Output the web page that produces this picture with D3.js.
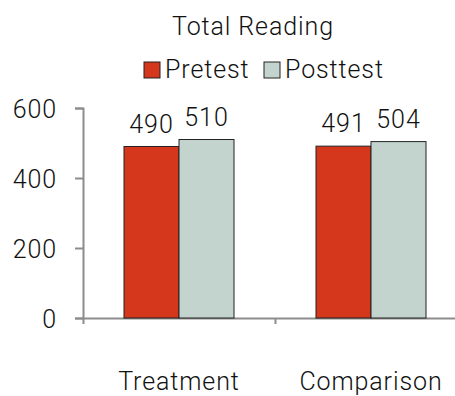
<!DOCTYPE html>
<html>
<head>
<meta charset="utf-8">
<script src="https://cdn.jsdelivr.net/npm/d3@7"></script>
<style>
  body { margin: 0; background: #fff; }
  svg text { font-family: Roboto, "Liberation Sans", sans-serif; font-weight: 300; fill: #111; letter-spacing: 0.9px; }
  .axis path, .axis line { stroke: #8c8c8c; stroke-width: 2; }
</style>
</head>
<body>
<div id="chart"></div>
<script>
var svgWidth = 455;
var svgHeight = 396;

// data
var groups = ["Treatment", "Comparison"];
var seriesNames = ["Pretest", "Posttest"];
var pretest = [490, 491];
var posttest = [510, 504];
var yTicks = [0, 200, 400, 600];

var colors = { Pretest: "#d4371c", Posttest: "#c3d4ce" };

var margin = { top: 108, left: 83, bottom: 78 };
var plotH = svgHeight - margin.top - margin.bottom; // 0 at y=318
var bandW = 192;
var fs = "25px";

var svg = d3.select("#chart")
  .append("svg")
  .attr("width", svgWidth)
  .attr("height", svgHeight);

var chartGroup = svg.append("g")
  .attr("transform", `translate(${margin.left}, ${margin.top})`);

var y = d3.scaleLinear().domain([0, 600]).range([plotH, 0]);
var x0 = d3.scaleBand().domain(groups).range([0, bandW * groups.length]).paddingInner(0).paddingOuter(0);
var x1 = d3.scaleBand().domain(seriesNames).range([41, bandW - 41]);

var rows = groups.map((g, i) => ({ group: g, Pretest: pretest[i], Posttest: posttest[i] }));

// y axis
chartGroup.append("g")
  .attr("class", "axis")
  .call(d3.axisLeft(y).tickValues(yTicks).tickSize(8).tickPadding(18))
  .call(g => g.selectAll("text").style("font-size", fs).attr("dy", "0.36em"));

// x axis (ticks at band edges)
var xEdges = d3.scaleLinear().domain([0, groups.length]).range([0, bandW * groups.length]);
chartGroup.append("g")
  .attr("class", "axis")
  .attr("transform", `translate(0, ${plotH})`)
  .call(d3.axisBottom(xEdges).ticks(groups.length).tickSize(6).tickSizeOuter(0).tickFormat(""));

// bars
var grp = chartGroup.selectAll(".grp")
  .data(rows)
  .enter()
  .append("g")
  .attr("transform", d => `translate(${x0(d.group)}, 0)`);

grp.selectAll("rect")
  .data(d => seriesNames.map(k => ({ key: k, value: d[k] })))
  .enter()
  .append("rect")
  .attr("x", d => x1(d.key))
  .attr("y", d => y(d.value))
  .attr("width", x1.bandwidth())
  .attr("height", d => plotH - y(d.value))
  .style("fill", d => colors[d.key])
  .style("stroke", "#222")
  .style("stroke-width", 1);

grp.selectAll(".val")
  .data(d => seriesNames.map(k => ({ key: k, value: d[k] })))
  .enter()
  .append("text")
  .attr("x", d => x1(d.key) + x1.bandwidth() / 2)
  .attr("y", d => y(d.value) - 14)
  .attr("text-anchor", "middle")
  .style("font-size", fs)
  .text(d => d.value);

// category labels
chartGroup.selectAll(".cat")
  .data(groups)
  .enter()
  .append("text")
  .attr("x", d => x0(d) + bandW / 2)
  .attr("y", plotH + 72)
  .attr("text-anchor", "middle")
  .style("font-size", fs)
  .text(d => d);

// title
svg.append("text")
  .attr("x", 253)
  .attr("y", 35)
  .attr("text-anchor", "middle")
  .style("font-size", fs)
  .text("Total Reading");

// legend
var legendX = [144, 264];
var legend = svg.selectAll(".legend")
  .data(seriesNames)
  .enter()
  .append("g")
  .attr("transform", (d, i) => `translate(${legendX[i]}, 62)`);

legend.append("rect")
  .attr("width", 16)
  .attr("height", 16)
  .style("fill", d => colors[d])
  .style("stroke", "#222")
  .style("stroke-width", 1);

legend.append("text")
  .attr("x", 21)
  .attr("y", 16)
  .style("font-size", fs)
  .text(d => d);
</script>
</body>
</html>
